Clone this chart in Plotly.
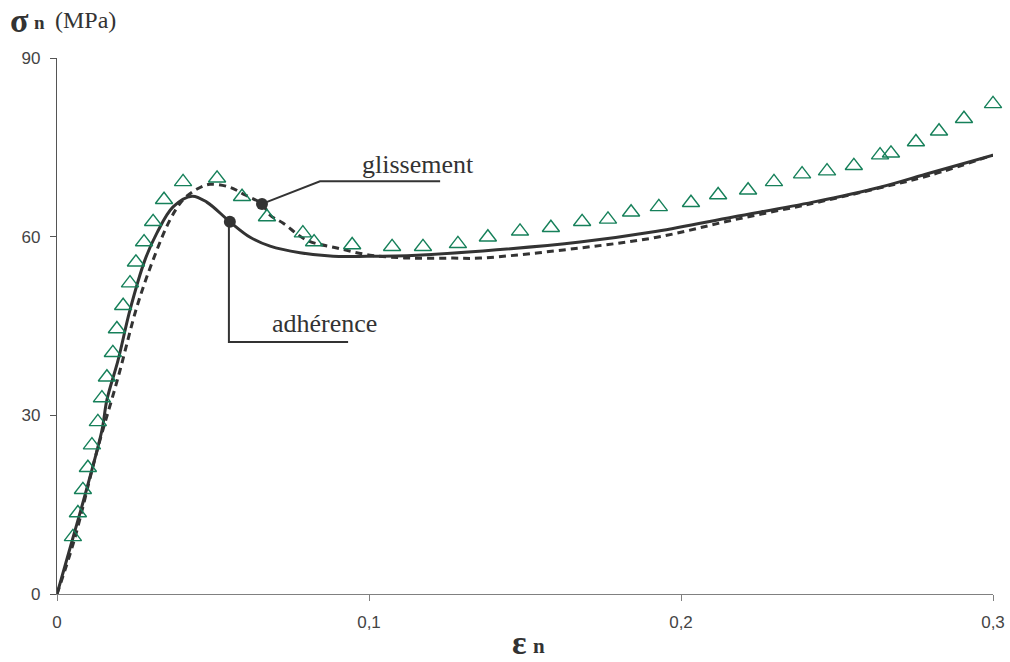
import plotly.graph_objects as go

# --- data ---
tri_x = [0.0051, 0.0067, 0.0083, 0.0099, 0.0112, 0.0131, 0.0144, 0.0160, 0.0179, 0.0192,
         0.0212, 0.0234, 0.0253, 0.0279, 0.0308, 0.0343, 0.0404, 0.0513, 0.0593, 0.0673,
         0.0788, 0.0824, 0.0946, 0.1074, 0.1173, 0.1285, 0.1381, 0.1484, 0.1583, 0.1683,
         0.1766, 0.1840, 0.1929, 0.2032, 0.2119, 0.2215, 0.2298, 0.2388, 0.2468, 0.2554,
         0.2638, 0.2673, 0.2753, 0.2827, 0.2907, 0.3000]
tri_y = [9.6, 13.6, 17.5, 21.2, 25.0, 28.9, 32.9, 36.4, 40.5, 44.5,
         48.4, 52.2, 55.7, 59.1, 62.5, 66.2, 69.2, 69.8, 66.7, 63.3,
         60.6, 59.1, 58.6, 58.3, 58.3, 58.8, 59.9, 60.9, 61.5, 62.5,
         62.9, 64.1, 65.0, 65.7, 67.0, 67.8, 69.2, 70.5, 71.0, 71.9,
         73.7, 74.0, 75.9, 77.7, 79.8, 82.3]

adh_x = [0.0, 0.0051, 0.0096, 0.0144, 0.0160, 0.0196, 0.0234, 0.0282, 0.0320, 0.0372,
         0.0433, 0.0480, 0.0554, 0.0619, 0.0683, 0.0779, 0.0885, 0.0994, 0.1154, 0.1365,
         0.1676, 0.1923, 0.2167, 0.2423, 0.2638, 0.2798, 0.3000]
adh_y = [0.0, 9.4, 17.8, 27.5, 32.6, 39.3, 47.7, 56.1, 60.6, 65.0,
         66.8, 65.8, 62.5, 59.9, 58.4, 57.3, 56.7, 56.7, 56.9, 57.6,
         59.1, 60.9, 63.3, 65.8, 68.3, 70.7, 73.7]

gli_x = [0.0, 0.0055, 0.0128, 0.0196, 0.0256, 0.0308, 0.0362, 0.0404, 0.0449, 0.0490,
         0.0554, 0.0603, 0.0657, 0.0683, 0.0724, 0.0801, 0.0897, 0.1003, 0.1131, 0.1269,
         0.1356, 0.1676, 0.1923, 0.2167, 0.2423, 0.2638, 0.2798, 0.3000]
gli_y = [0.0, 9.0, 24.0, 36.4, 48.2, 56.1, 62.8, 66.2, 68.0, 68.8,
         68.3, 67.0, 65.5, 63.6, 62.3, 59.4, 58.1, 56.9, 56.4, 56.4,
         56.4, 58.1, 59.9, 62.8, 65.6, 68.2, 70.3, 73.7]

dot_x = [0.0554, 0.0657]
dot_y = [62.5, 65.5]

x_ticks = [0, 0.1, 0.2, 0.3]
x_labels = ["0", "0,1", "0,2", "0,3"]
y_ticks = [0, 30, 60, 90]
y_labels = ["0", "30", "60", "90"]

DARK = "#333333"
GREEN = "#16805a"

fig = go.Figure()
fig.add_trace(go.Scatter(x=gli_x, y=gli_y, mode="lines", line=dict(color=DARK, width=3, dash="7px,5px"),
                         line_shape="spline", hoverinfo="skip"))
fig.add_trace(go.Scatter(x=adh_x, y=adh_y, mode="lines", line=dict(color=DARK, width=3),
                         line_shape="spline", hoverinfo="skip"))
fig.add_trace(go.Scatter(x=tri_x, y=tri_y, mode="markers", cliponaxis=False,
                         marker=dict(symbol="triangle-up-open", size=15, color=GREEN,
                                     line=dict(color=GREEN, width=1.4))))
fig.add_trace(go.Scatter(x=dot_x, y=dot_y, mode="markers",
                         marker=dict(symbol="circle", size=12, color=DARK)))

# leader lines
fig.add_shape(type="path", xref="x", yref="y",
              path="M 0.0657 65.5 L 0.0843 69.3 L 0.1228 69.3",
              line=dict(color=DARK, width=2))
fig.add_shape(type="path", xref="x", yref="y",
              path="M 0.0551 62.5 L 0.0551 42.3 L 0.0933 42.3",
              line=dict(color=DARK, width=2))

serif = "Liberation Serif"
fig.add_annotation(x=0.0971, y=72.2, xref="x", yref="y", text="glissement", showarrow=False,
                   xanchor="left", yanchor="middle", font=dict(family=serif, size=26, color=DARK))
fig.add_annotation(x=0.0683, y=45.5, xref="x", yref="y", text="adhérence", showarrow=False,
                   xanchor="left", yanchor="middle", font=dict(family=serif, size=26, color=DARK))

# axis titles (pixel-based paper placement)
W, H = 1010, 662
L, R, T, B = 57, 17, 58, 68
pw, ph = W - L - R, H - T - B
def px(x): return (x - L) / pw
def py(y): return (H - B - y) / ph

fig.add_annotation(x=px(8), y=py(20), xref="paper", yref="paper", text="<b>σ</b>", showarrow=False,
                   xanchor="left", yanchor="middle", font=dict(family=serif, size=34, color=DARK))
fig.add_annotation(x=px(32), y=py(23), xref="paper", yref="paper", text="<b>n</b>", showarrow=False,
                   xanchor="left", yanchor="middle", font=dict(family=serif, size=19, color=DARK))
fig.add_annotation(x=px(53), y=py(20), xref="paper", yref="paper", text="(MPa)", showarrow=False,
                   xanchor="left", yanchor="middle", font=dict(family=serif, size=24, color=DARK))
fig.add_annotation(x=px(510), y=py(642), xref="paper", yref="paper", text="<b>ε</b>", showarrow=False,
                   xanchor="left", yanchor="middle", font=dict(family=serif, size=34, color=DARK))
fig.add_annotation(x=px(531), y=py(646), xref="paper", yref="paper", text="<b>n</b>", showarrow=False,
                   xanchor="left", yanchor="middle", font=dict(family=serif, size=21, color=DARK))

tickfont = dict(family="Liberation Sans", size=17, color="#444444")
fig.update_xaxes(range=[0, 0.3], tickvals=x_ticks, ticktext=x_labels, showgrid=False, zeroline=False,
                 showline=True, linecolor="#808080", linewidth=1.2, ticks="outside", ticklen=6,
                 tickcolor="#808080", tickfont=tickfont, ticklabelstandoff=6)
fig.update_yaxes(range=[0, 90], tickvals=y_ticks, ticktext=y_labels, showgrid=False, zeroline=False,
                 showline=True, linecolor="#555555", linewidth=1.2, ticks="outside", ticklen=6,
                 tickcolor="#555555", tickfont=tickfont, ticklabelstandoff=6)
fig.update_layout(width=W, height=H, margin=dict(l=L, r=R, t=T, b=B, autoexpand=False), showlegend=False,
                  plot_bgcolor="white", paper_bgcolor="white")
fig.write_html("out.html", config={"displayModeBar": False},
               post_script="document.body.style.margin='0';document.body.style.padding='0';"
                           "document.body.style.overflow='hidden';")
